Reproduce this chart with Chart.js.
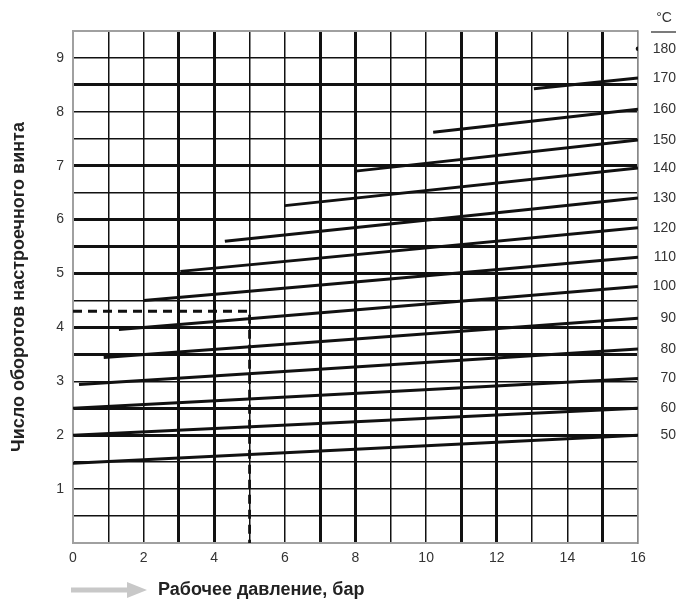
<!DOCTYPE html>
<html>
<head>
<meta charset="utf-8">
<script src="https://cdn.jsdelivr.net/npm/chart.js@4.4.1/dist/chart.umd.min.js"></script>
<style>
  html, body { margin: 0; padding: 0; background: #fff; }
</style>
</head>
<body>
<canvas id="chart" width="689" height="603"></canvas>
<script>
// temperature lines (°C), each runs from its start point to x = 16 bar
const temps = [50, 60, 70, 80, 90, 100, 110, 120, 130, 140, 150, 160, 170];
const startX = [0, 0, 0, 0.17, 0.87, 1.3, 2.0, 3.04, 4.3, 6.0, 8.0, 10.2, 13.05];
const startY = [1.48, 2.0, 2.5, 2.94, 3.44, 3.96, 4.5, 5.04, 5.6, 6.26, 6.9, 7.62, 8.43];
const endY = [2.0, 2.5, 3.05, 3.6, 4.17, 4.76, 5.3, 5.85, 6.4, 6.96, 7.48, 8.05, 8.63];
const topTemp = 180;
const topTempY = 9.17;

// worked example: 5 bar -> 4.3 turns
const exampleX = [0, 5, 5];
const exampleY = [4.3, 4.3, 0];

const pressureTicks = [0, 2, 4, 6, 8, 10, 12, 14, 16];
const turnTicks = [1, 2, 3, 4, 5, 6, 7, 8, 9];
const thickX = [3, 4, 7, 8, 11, 12, 15];
const thickY = [2, 2.5, 3.5, 4, 5, 5.5, 6, 7, 8.5];

const yTitle = "Число оборотов настроечного винта";
const xTitle = "Рабочее давление, бар";
const tickFont = { family: "Liberation Sans", size: 14 };

const datasets = temps.map((t, i) => ({
  label: t + " °C",
  data: [{ x: startX[i], y: startY[i] }, { x: 16, y: endY[i] }],
  showLine: true,
  borderColor: "#111",
  borderWidth: 3,
  pointRadius: 0,
}));
datasets.push({
  label: topTemp + " °C",
  data: [{ x: 16, y: topTempY }],
  pointRadius: 2.3,
  pointBackgroundColor: "#111",
  pointBorderWidth: 0,
});
datasets.push({
  label: "example",
  data: exampleX.map((x, i) => ({ x, y: exampleY[i] })),
  showLine: true,
  borderColor: "#111",
  borderWidth: 2.8,
  borderDash: [9, 6],
  pointRadius: 0,
});

const rightLabels = temps.concat(topTemp);
const rightValues = endY.concat(topTempY);

const extras = {
  id: "extras",
  afterDraw(chart) {
    const { ctx, chartArea, scales } = chart;
    ctx.save();
    // arrow + x title
    const ay = chartArea.bottom + 47;
    ctx.fillStyle = "#c8c8c8";
    ctx.fillRect(71, ay - 2.5, 58, 5);
    ctx.beginPath();
    ctx.moveTo(127, ay - 8);
    ctx.lineTo(147, ay);
    ctx.lineTo(127, ay + 8);
    ctx.closePath();
    ctx.fill();
    ctx.fillStyle = "#222";
    ctx.font = "bold 18px 'Liberation Sans'";
    ctx.textBaseline = "middle";
    ctx.textAlign = "left";
    ctx.fillText(xTitle, 158, ay);
    // °C header over right labels
    const r = scales.y2.right;
    ctx.font = "14px 'Liberation Sans'";
    ctx.textAlign = "center";
    ctx.fillStyle = "#333";
    ctx.fillText("°C", r - 12, 18);
    ctx.strokeStyle = "#333";
    ctx.lineWidth = 1.3;
    ctx.beginPath();
    ctx.moveTo(r - 25, 32);
    ctx.lineTo(r, 32);
    ctx.stroke();
    ctx.restore();
  },
};

new Chart(document.getElementById("chart"), {
  type: "scatter",
  data: { datasets },
  options: {
    responsive: false,
    animation: false,
    layout: { padding: { left: 0, right: 13, top: 31, bottom: 0 } },
    plugins: { legend: { display: false }, tooltip: { enabled: false } },
    scales: {
      x: {
        type: "linear",
        min: 0,
        max: 16,
        afterFit: (s) => { s.height = 60; },
        ticks: {
          stepSize: 1,
          autoSkip: false,
          maxRotation: 0,
          padding: 7,
          color: "#333",
          font: tickFont,
          callback: (v) => (pressureTicks.includes(v) ? v : ""),
        },
        grid: {
          drawTicks: false,
          color: (c) => (c.tick.value === 0 || c.tick.value === 16 ? "#999" : "#111"),
          lineWidth: (c) => (thickX.includes(c.tick.value) ? 3 : 1.5),
        },
        border: { color: "#a0a0a0", width: 2 },
      },
      y: {
        type: "linear",
        min: 0,
        max: 9.5,
        afterFit: (s) => { s.width = 73; },
        ticks: {
          stepSize: 0.5,
          autoSkip: false,
          padding: 9,
          color: "#333",
          font: tickFont,
          callback: (v) => (turnTicks.includes(v) ? v : ""),
        },
        grid: {
          drawTicks: false,
          color: (c) => (c.tick.value === 0 || c.tick.value === 9.5 ? "#a0a0a0" : "#111"),
          lineWidth: (c) => (c.tick.value === 9.5 ? 2 : thickY.includes(c.tick.value) ? 3 : 1.5),
        },
        border: { color: "#a0a0a0", width: 2 },
        title: {
          display: true,
          text: yTitle,
          color: "#222",
          font: { family: "Liberation Sans", size: 18, weight: "bold" },
          padding: { top: 8, bottom: 0 },
        },
      },
      y2: {
        type: "linear",
        position: "right",
        min: 0,
        max: 9.5,
        afterFit: (s) => { s.width = 38; },
        afterBuildTicks: (s) => { s.ticks = rightValues.map((v) => ({ value: v })); },
        ticks: {
          autoSkip: false,
          crossAlign: "far",
          color: "#333",
          font: tickFont,
          callback: (v, i) => rightLabels[i],
        },
        grid: { display: false, drawTicks: false },
        border: { color: "#888", width: 1.5 },
      },
    },
  },
  plugins: [extras],
});
</script>
</body>
</html>
